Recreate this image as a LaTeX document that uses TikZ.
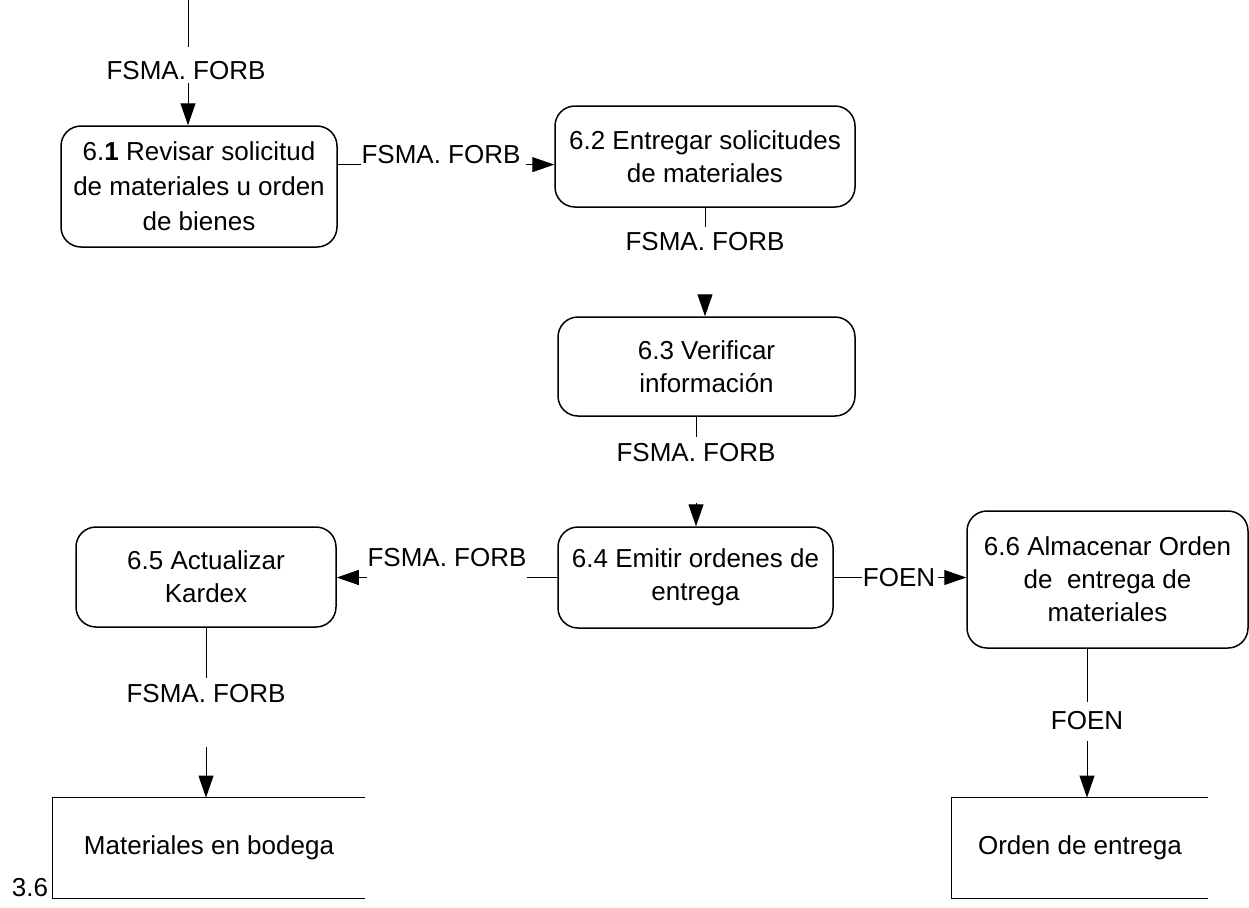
\documentclass[tikz,border=0pt]{standalone}
\usepackage{fontspec}
\setmainfont{Liberation Sans}
\usetikzlibrary{arrows.meta, positioning}
\tikzset{
    process/.style={rectangle, rounded corners=10pt, draw=black, line width=0.75pt, align=center, inner sep=2pt, font=\fontsize{13}{16.5}\selectfont},
    store/.style={rectangle, align=center, inner sep=0pt, font=\fontsize{13}{16.5}\selectfont},
    storeline/.style={line width=0.75pt},
    flow/.style={inner sep=0pt, font=\fontsize{13}{16.5}\selectfont},
    line/.style={line width=0.5pt},
    arrow/.style={line width=0.5pt, -{Triangle[length=11pt, width=7.5pt]}}
}
\begin{document}
\begin{tikzpicture}[x=0.5pt, y=-0.5pt]
    \useasboundingbox (0, 0) rectangle (1249, 907);

    \node (p61) [process, minimum width=138pt, minimum height=60.5pt, font=\fontsize{13}{17.5}\selectfont] at (199, 186.5) {6.\textbf{1} Revisar solicitud\\de materiales u orden\\de bienes};
    \node (p62) [process, minimum width=150pt, minimum height=50.5pt] at (705, 156.5) {6.2 Entregar solicitudes\\de materiales};
    \node (p63) [process, minimum width=148.5pt, minimum height=49.5pt] at (706.5, 366.5) {6.3 Verificar\\información};
    \node (p64) [process, minimum width=137.5pt, minimum height=50.5pt] at (695.5, 577.5) {6.4 Emitir ordenes de\\entrega};
    \node (p65) [process, minimum width=130pt, minimum height=50pt] at (206, 577) {6.5 Actualizar\\Kardex};
    \node (p66) [process, minimum width=140.5pt, minimum height=68.5pt] at (1107.5, 579.5) {6.6 Almacenar Orden\\de\ \ entrega de\\materiales};

    \node (s1) [store, minimum width=156pt, minimum height=50pt] at (209, 848) {Materiales en bodega};
    \node (s2) [store, minimum width=128pt, minimum height=50pt] at (1080, 848) {Orden de entrega};
    \node (n36) [flow] at (30, 888) {3.6};
    \draw [storeline] (s1.north east) -- (s1.north west) -- (s1.south west) -- (s1.south east);
    \draw [storeline] (s2.north east) -- (s2.north west) -- (s2.south west) -- (s2.south east);

    \coordinate (in) at (188, 0);
    \node (l0) [flow] at (186, 71) {FSMA. FORB};
    \node (l12) [flow] at (441, 155) {FSMA. FORB};
    \node (l23) [flow] at (705, 242) {FSMA. FORB};
    \node (l34) [flow] at (696, 453) {FSMA. FORB};
    \node (l45) [flow] at (447, 558) {FSMA. FORB};
    \node (l46) [flow] at (899, 577.5) {FOEN};
    \node (l56) [flow] at (206, 694) {FSMA. FORB};
    \node (l6s) [flow] at (1087, 721) {FOEN};

    \draw [line, shorten >=7pt] (in) -- (l0.north -| in);
    \draw [arrow, shorten <=1.3pt] (l0.south -| in) -- (p61.north -| in);
    \draw [line] (p61.east |- l12.south) -- (l12.south west);
    \draw [arrow, shorten <=2.5pt] (l12.south east) -- (p62.west |- l12.south);
    \draw [line, shorten >=2.8pt] (p62.south) -- (l23.north);
    \draw [arrow, shorten <=22pt] (l23.south) -- (p63.north -| l23);
    \draw [line, shorten >=3.3pt] (p63.south -| l34) -- (l34.north);
    \draw [arrow, shorten <=20pt] (l34.south) -- (p64.north -| l34);
    \draw [line] (p64.west) -- (l45.east |- p64.west);
    \draw [arrow] (l45.west |- p64.west) -- (p65.east |- p64.west);
    \draw [line] (p64.east) -- (l46.west);
    \draw [arrow, shorten <=1pt] (l46.east) -- (p66.west |- l46.east);
    \draw [line, shorten >=3.3pt] (p65.south) -- (l56.north);
    \draw [arrow, shorten <=21.8pt] (l56.south) -- (s1.north -| l56);
    \draw [line, shorten >=4.8pt] (p66.south -| l6s) -- (l6s.north);
    \draw [arrow, shorten <=5.3pt] (l6s.south) -- (s2.north -| l6s);
\end{tikzpicture}
\end{document}
